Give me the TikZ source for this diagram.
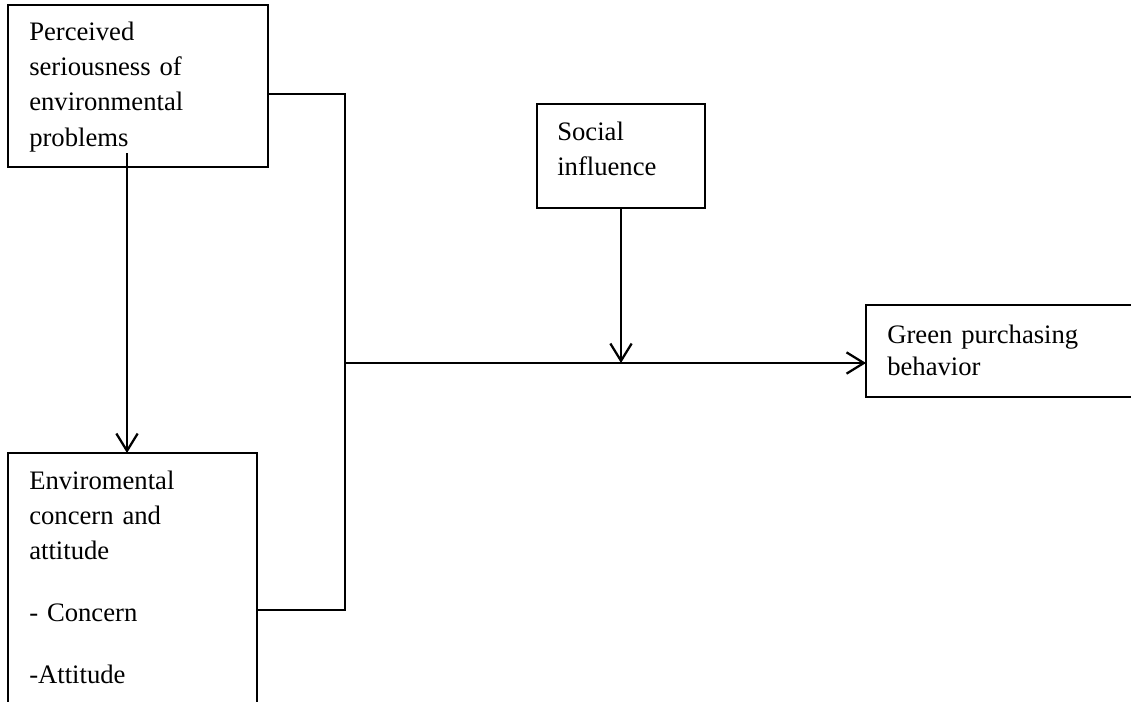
\documentclass[tikz,border=0pt]{standalone}
\usepackage{fontspec}
\setmainfont{Liberation Serif}
\usepackage{tikz}
\usetikzlibrary{arrows.meta}

\begin{document}
\begin{tikzpicture}[x=0.75pt,y=-0.75pt,
	box/.style={draw,line width=1.1pt,inner sep=0pt,outer sep=0pt,anchor=north west},
	txt/.style={anchor=base west,inner sep=0pt,text width=240pt,align=left,font=\fontsize{20}{26.5}\selectfont},
	link/.style={line width=1.7pt},
	arr/.style={link,-{Straight Barb[length=13pt,width=16pt]}}]
	\useasboundingbox (0,0) rectangle (1131,701);
	\clip (0,0) rectangle (1131,701);
	\node[box,minimum width=195pt,minimum height=121.5pt] (ps) at (8,5) {};
	\node[box,minimum width=186.75pt,minimum height=240pt] (ec) at (8,453) {};
	\node[box,minimum width=126pt,minimum height=78pt] (si) at (537,104) {};
	\node[box,minimum width=225pt,minimum height=69pt] (gp) at (866,305) {};
	\node[txt] (pst) at (29,40) {Perceived\\seriousness of\\environmental\\problems};
	\node[txt] (ect) at (29,489) {Enviromental\\concern and\\attitude\\[20pt]- Concern\\[20pt]-Attitude};
	\node[txt] (sit) at (557,140) {Social\\influence};
	\node[txt,font=\fontsize{20}{24}\selectfont] (gpt) at (887,343) {Green purchasing\\behavior};
	\coordinate (j1) at (345,94);
	\coordinate (j2) at (345,610);
	\coordinate (m) at (345,363);
	\coordinate (s) at (127,153);
	\draw[link] (ps.east |- j1) -- (j1) -- (j2) -- (ec.east |- j2);
	\draw[arr] (m) -- (gp.west |- m);
	\draw[arr] (si.south) -- (si.south |- m);
	\draw[arr] (s) -- (s |- ec.north);
\end{tikzpicture}
\end{document}
